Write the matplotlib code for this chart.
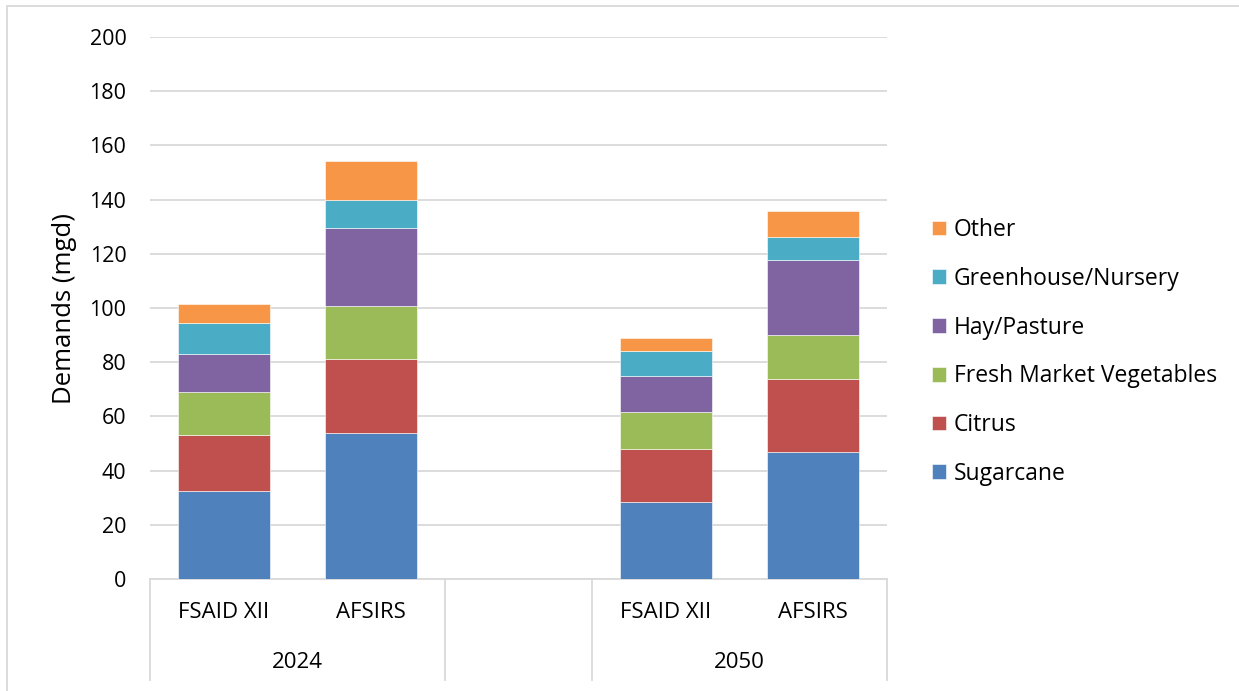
import matplotlib.pyplot as plt
from matplotlib.lines import Line2D
from matplotlib.patches import Rectangle

plt.rcParams['font.family'] = ['Open Sans', 'DejaVu Sans']

# slot 2 is the empty gap between the two year groups
bar_labels = ['FSAID XII', 'AFSIRS', '', 'FSAID XII', 'AFSIRS']
groups = ['2024', '2050']
series = ['Sugarcane', 'Citrus', 'Fresh Market Vegetables', 'Hay/Pasture',
          'Greenhouse/Nursery', 'Other']
sugarcane = [32.5, 53.8, 0, 28.3, 47.0]
citrus = [20.5, 27.3, 0, 19.8, 26.8]
vegetables = [15.9, 19.6, 0, 13.7, 16.3]
hay = [14.2, 28.7, 0, 13.1, 27.5]
greenhouse = [11.4, 10.4, 0, 9.2, 8.6]
other = [7.0, 14.4, 0, 5.0, 9.7]
colors = ['#4F81BD', '#C0504D', '#9BBB59', '#8064A2', '#4BACC6', '#F79646']

values = [sugarcane, citrus, vegetables, hay, greenhouse, other]

fig = plt.figure(figsize=(12.39, 6.91), dpi=100)
ax = fig.add_axes([150 / 1239, 1 - 579 / 691, 737 / 1239, 542 / 691])

x = range(len(bar_labels))
bottom = [0] * len(bar_labels)
for name, vals, col in zip(series, values, colors):
    ax.bar(x, vals, width=0.625, bottom=bottom, color=col, label=name,
           edgecolor='white', linewidth=0.4, zorder=3)
    bottom = [b + v for b, v in zip(bottom, vals)]

ax.set_xlim(-0.5, 4.5)
ax.set_ylim(0, 200)
ax.set_yticks(range(0, 201, 20))
ax.yaxis.grid(True, color='#d9d9d9', linewidth=1.3, zorder=0)
ax.tick_params(axis='y', length=0, pad=17, labelsize=15.5, labelcolor='#000000')
ax.tick_params(axis='x', length=0)
ax.set_xticks([])
for s in ['top', 'right', 'left']:
    ax.spines[s].set_visible(False)
ax.spines['bottom'].set_color('#d9d9d9')
ax.spines['bottom'].set_linewidth(1.3)
ax.set_ylabel('Demands (mgd)', fontsize=18.5, labelpad=9)

# multi-level category axis
trans = ax.get_xaxis_transform()
for xi, lab in zip(x, bar_labels):
    if lab:
        ax.text(xi, -34 / 542, lab, transform=trans, ha='center', va='center',
                fontsize=16)
for gx, g in zip([0.5, 3.5], groups):
    ax.text(gx, -84 / 542, g, transform=trans, ha='center', va='center',
            fontsize=16)
for sx in [-0.5, 1.5, 2.5, 4.5]:
    ax.add_line(Line2D([sx, sx], [0, -101 / 542], transform=trans,
                       color='#d9d9d9', linewidth=1.3, clip_on=False))

handles, labels = ax.get_legend_handles_labels()
ax.legend(handles[::-1], labels[::-1], loc='center left',
          bbox_to_anchor=(911 / 1239, 1 - 352 / 691),
          bbox_transform=fig.transFigure, frameon=False, fontsize=16.5,
          handlelength=0.62, handleheight=0.62, handletextpad=0.35,
          labelspacing=1.08)

# outer chart border
fig.add_artist(Rectangle((7 / 1239, -0.1), 1.2, 1 - 6 / 691 + 0.1,
                         transform=fig.transFigure, fill=False,
                         edgecolor='#d9d9d9', linewidth=1.3))

fig.savefig('out.png', dpi=100)
